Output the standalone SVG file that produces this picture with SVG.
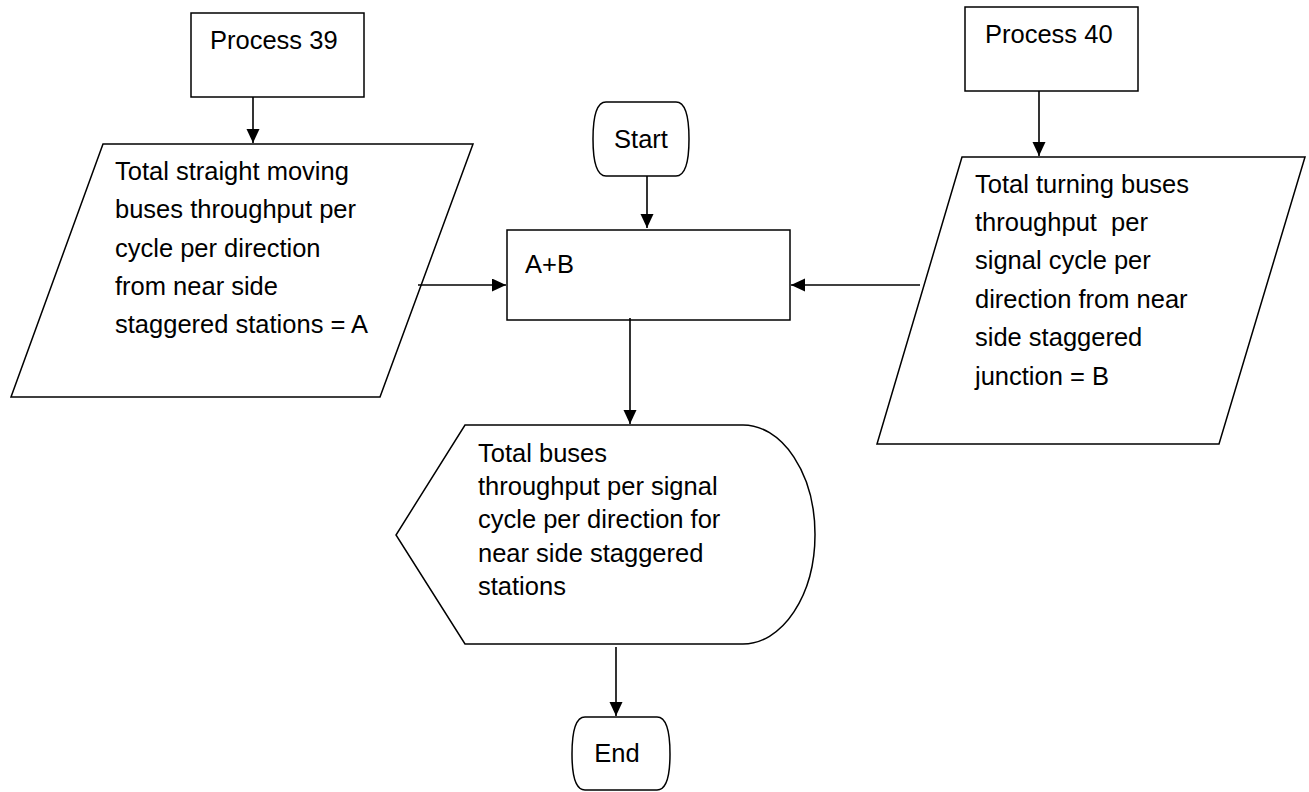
<svg xmlns="http://www.w3.org/2000/svg" width="1309" height="792" viewBox="0 0 1309 792">
<style>
.s{fill:#fff;stroke:#000;stroke-width:1.5}
.c{fill:none;stroke:#000;stroke-width:1.6}
text{font-family:"Liberation Sans",Arial,sans-serif;font-size:25.5px;fill:#000}
</style>
<defs>
<marker id="ah" markerWidth="15" markerHeight="14" refX="14" refY="6.5" orient="auto" markerUnits="userSpaceOnUse">
<path d="M0,0 L14,6.5 L0,13 Z" fill="#000"/>
</marker>
</defs>
<rect width="1309" height="792" fill="#fff"/>
<g id="p39">
<rect class="s" x="191" y="13" width="173" height="84"/>
<text x="210" y="49">Process 39</text>
</g>
<g id="p40">
<rect class="s" x="965" y="7" width="173" height="84"/>
<text x="985" y="43">Process 40</text>
</g>
<g id="inA">
<path class="s" d="M103,144 L473,144 L380,397 L11,397 Z"/>
<text x="115" y="180">Total straight moving</text>
<text x="115" y="218">buses throughput per</text>
<text x="115" y="257">cycle per direction</text>
<text x="115" y="295">from near side</text>
<text x="115" y="333">staggered stations = A</text>
</g>
<g id="inB">
<path class="s" d="M962,157 L1305,157 L1219,444 L877,444 Z"/>
<text x="975" y="193" xml:space="preserve">Total turning buses</text>
<text x="975" y="231" xml:space="preserve">throughput  per</text>
<text x="975" y="269">signal cycle per</text>
<text x="975" y="308">direction from near</text>
<text x="975" y="346">side staggered</text>
<text x="975" y="385">junction = B</text>
</g>
<g id="start">
<path class="s" d="M606,102 H676 C685,102 689,116 689,139 C689,162 685,176 676,176 H606 C597,176 593,162 593,139 C593,116 597,102 606,102 Z"/>
<text x="641" y="148" text-anchor="middle">Start</text>
</g>
<g id="sum">
<rect class="s" x="507" y="230" width="283" height="90"/>
<text x="525" y="273">A+B</text>
</g>
<g id="disp">
<path class="s" d="M465,425 L743,425 A72,109.5 0 0 1 743,644 L465,644 L396,535 Z"/>
<text x="478" y="462">Total buses</text>
<text x="478" y="495">throughput per signal</text>
<text x="478" y="528">cycle per direction for</text>
<text x="478" y="562">near side staggered</text>
<text x="478" y="595">stations</text>
</g>
<g id="end">
<path class="s" d="M585,717 H657 C666,717 670,732 670,754 C670,776 666,790 657,790 H585 C576,790 572,776 572,754 C572,732 576,717 585,717 Z"/>
<text x="617" y="762" text-anchor="middle">End</text>
</g>
<g id="connectors">
<line class="c" x1="253" y1="97" x2="253" y2="143" marker-end="url(#ah)"/>
<line class="c" x1="1039" y1="91" x2="1039" y2="156" marker-end="url(#ah)"/>
<line class="c" x1="647" y1="176" x2="647" y2="228" marker-end="url(#ah)"/>
<line class="c" x1="418" y1="285" x2="506" y2="285" marker-end="url(#ah)"/>
<line class="c" x1="920" y1="285" x2="791" y2="285" marker-end="url(#ah)"/>
<line class="c" x1="630" y1="318" x2="630" y2="424" marker-end="url(#ah)"/>
<line class="c" x1="616" y1="647" x2="616" y2="716" marker-end="url(#ah)"/>
</g>
</svg>
